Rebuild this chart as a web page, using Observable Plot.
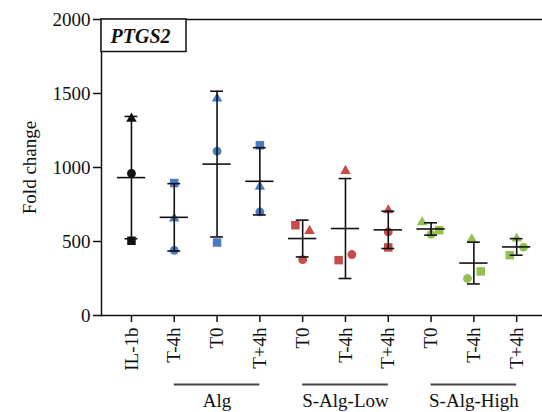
<!DOCTYPE html>
<html>
<head>
<meta charset="utf-8">
<script src="https://cdn.jsdelivr.net/npm/d3@7"></script>
<script src="https://cdn.jsdelivr.net/npm/@observablehq/plot@0.6"></script>
<style>
  body { margin: 0; background: #fff; }
  #chart { width: 542px; height: 412px; }
</style>
</head>
<body>
<div id="chart"></div>
<script>
// ---- data ----
const categories = ["IL-1b", "T-4h", "T0", "T+4h", "T0", "T-4h", "T+4h", "T0", "T-4h", "T+4h"];
const groupOf = ["", "Alg", "Alg", "Alg", "S-Alg-Low", "S-Alg-Low", "S-Alg-Low", "S-Alg-High", "S-Alg-High", "S-Alg-High"];
const triangleValues = [1330, 655, 1466, 870, 572, 977, 711, 630, 515, 520];
const circleValues   = [960, 440, 1110, 700, 378, 412, 565, 548, 250, 462];
const squareValues   = [505, 895, 493, 1150, 610, 374, 460, 576, 298, 408];
// horizontal jitter of replicate markers (category units)
const triangleJitter = [0, 0, 0, 0, 0.16, 0, 0, -0.21, -0.05, 0];
const circleJitter   = [0, 0, 0, 0, 0, 0.15, 0, 0, -0.15, 0.16];
const squareJitter   = [0, 0, 0, 0, -0.17, -0.16, 0, 0.19, 0.16, -0.16];
const groupColors = { "": "#111111", "Alg": "#4a7cc2", "S-Alg-Low": "#c84b4b", "S-Alg-High": "#93c053" };
const yTicks = [0, 500, 1000, 1500, 2000];
const geneLabel = "PTGS2";
const yLabel = "Fold change";

// ---- derived tables ----
const xDomain = [-0.7, 9.58];
const makePoints = (vals, jit) => vals.map((v, i) => ({ i, v, x: i + jit[i], color: groupColors[groupOf[i]] }));
const triPts = makePoints(triangleValues, triangleJitter);
const cirPts = makePoints(circleValues, circleJitter);
const sqPts  = makePoints(squareValues, squareJitter);
const stats = categories.map((c, i) => {
  const vs = [triangleValues[i], circleValues[i], squareValues[i]];
  const m = d3.mean(vs), s = d3.deviation(vs);
  return { i, m, lo: m - s, hi: m + s };
});
const groupSpans = d3.groups(categories.map((c, i) => ({ i, g: groupOf[i] })).filter(d => d.g), d => d.g)
  .map(([g, arr]) => ({ g, x1: d3.min(arr, d => d.i), x2: d3.max(arr, d => d.i) }));

const font = "'Liberation Serif', 'Times New Roman', serif";

const boxMark = (index, scales, values, dims) => {
  const ns = "http://www.w3.org/2000/svg";
  const r = document.createElementNS(ns, "rect");
  r.setAttribute("x", dims.marginLeft);
  r.setAttribute("y", dims.marginTop);
  r.setAttribute("width", 85);
  r.setAttribute("height", 32.5);
  r.setAttribute("fill", "white");
  r.setAttribute("stroke", "#111");
  r.setAttribute("stroke-width", 1.5);
  return r;
};

const plot = Plot.plot({
  width: 542,
  height: 412,
  marginLeft: 101,
  marginRight: 1,
  marginTop: 19,
  marginBottom: 97,
  style: { fontFamily: font, fontSize: "19px", color: "#111", background: "#fff" },
  x: { type: "linear", domain: xDomain },
  y: { domain: [0, 2000] },
  marks: [
    Plot.axisY({ ticks: yTicks, tickSize: 8, tickPadding: 3, tickFormat: d => String(d), label: null, fontSize: 19, strokeWidth: 1.5 }),
    Plot.axisX({ ticks: d3.range(categories.length), tickFormat: i => categories[i], tickRotate: -90, tickSize: 7, tickPadding: 5, label: null, fontSize: 19, strokeWidth: 1.5 }),
    Plot.frame({ anchor: "left", strokeWidth: 1.5 }),
    Plot.frame({ anchor: "bottom", strokeWidth: 1.5 }),
    Plot.frame({ anchor: "top", strokeWidth: 1.5 }),
    Plot.text([yLabel], { frameAnchor: "left", textAnchor: "middle", dx: -72, rotate: -90, text: d => d, fontSize: 19 }),
    // replicate markers
    Plot.dot(sqPts,  { x: "x", y: "v", symbol: "square",   r: 4.8, fill: "color", stroke: "none" }),
    Plot.dot(cirPts, { x: "x", y: "v", symbol: "circle",   r: 4.4, fill: "color", stroke: "none" }),
    Plot.dot(triPts, { x: "x", y: "v", symbol: "triangle", r: 3.9, fill: "color", stroke: "none" }),
    // mean ± SD
    Plot.ruleX(stats, { x: "i", y1: "lo", y2: "hi", stroke: "#111", strokeWidth: 1.6 }),
    Plot.ruleY(stats, { y: "hi", x1: d => d.i - 0.15, x2: d => d.i + 0.15, stroke: "#111", strokeWidth: 1.6 }),
    Plot.ruleY(stats, { y: "lo", x1: d => d.i - 0.15, x2: d => d.i + 0.15, stroke: "#111", strokeWidth: 1.6 }),
    Plot.ruleY(stats, { y: "m",  x1: d => d.i - 0.33, x2: d => d.i + 0.33, stroke: "#111", strokeWidth: 1.6 }),
    // group brackets under the axis
    Plot.ruleY(groupSpans, { y: 0, x1: "x1", x2: "x2", dy: 69, stroke: "#444", strokeWidth: 2 }),
    Plot.text(groupSpans, { x: d => (d.x1 + d.x2) / 2, y: 0, text: "g", dy: 91, lineAnchor: "bottom", fontSize: 19 }),
    // gene label box
    boxMark,
    Plot.text([geneLabel], { frameAnchor: "top-left", dx: 9, dy: 9.5, lineAnchor: "top", text: d => d, fontSize: 20, fontWeight: "bold", fontStyle: "italic" })
  ]
});
document.getElementById("chart").appendChild(plot);
</script>
</body>
</html>
